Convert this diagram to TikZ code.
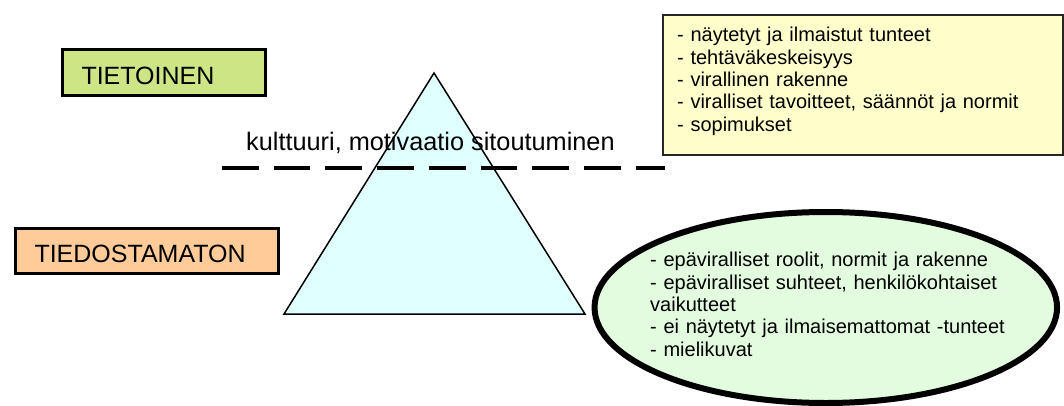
\documentclass[tikz,border=0pt]{standalone}
\usepackage{fontspec}
\setmainfont{Liberation Sans}
\usetikzlibrary{shapes.geometric}
\definecolor{levelgreen}{RGB}{205,229,133}
\definecolor{levelpeach}{RGB}{255,204,153}
\definecolor{icecyan}{RGB}{224,255,255}
\definecolor{noteyellow}{RGB}{255,255,204}
\definecolor{notegreen}{RGB}{227,252,224}
\begin{document}
\begin{tikzpicture}[x=1pt,y=-1pt,
  levelbox/.style={draw=black, line width=3pt, rectangle, align=left,
    inner ysep=0pt, inner xsep=19.5pt,
    font=\fontsize{25}{30}\selectfont},
  notetext/.style={anchor=base west, inner sep=0pt, align=left,
    text width=#1, font=\fontsize{20}{22.4}\selectfont}]
\useasboundingbox (0,0) rectangle (1064,406);

% the iceberg
\coordinate (apex) at (434,73);
\coordinate (baseL) at (284,314);
\coordinate (baseR) at (585,314);
\draw[fill=icecyan, line width=1.5pt, line join=miter] (apex) -- (baseL) -- (baseR) -- cycle;

% level labels
\node[levelbox, fill=levelgreen, anchor=north west, text width=164pt,
      text height=34.8pt, text depth=11.2pt] (tietoinen) at (60.5,48.5) {TIETOINEN};
\node[levelbox, fill=levelpeach, anchor=north west, text width=224pt,
      text height=34.2pt, text depth=10.8pt] (tiedostamaton) at (13.5,226.5) {TIEDOSTAMATON};

% waterline
\node[anchor=base west, inner sep=0pt, font=\fontsize{25.3}{30}\selectfont]
  (waterlabel) at (246,150) {kulttuuri, motivaatio sitoutuminen};
\coordinate (lineL) at (222,168);
\coordinate (lineR) at (665,168);
\draw[line width=4pt, dash pattern=on 36.7pt off 15pt] (lineL) -- (lineR);

% visible part
\node[draw=black!85, line width=2pt, fill=noteyellow, rectangle, anchor=north west,
      minimum width=400pt, minimum height=140pt, inner sep=0pt] (visible) at (662,14) {};
\node[notetext=380pt] (visibletext) at (677,41.7)
  {- näytetyt ja ilmaistut tunteet\\
   - tehtäväkeskeisyys\\
   - virallinen rakenne\\
   - viralliset tavoitteet, säännöt ja normit\\
   - sopimukset};

% hidden part
\node[ellipse, draw=black, line width=6pt, fill=notegreen,
      minimum width=462.5pt, minimum height=191pt, inner sep=0pt] (hidden) at (825.8,307.5) {};
\node[notetext=390pt] (hiddentext) at (650,266.7)
  {- epäviralliset roolit, normit ja rakenne\\
   - epäviralliset suhteet, henkilökohtaiset\\
   vaikutteet\\
   - ei näytetyt ja ilmaisemattomat -tunteet\\
   - mielikuvat};
\end{tikzpicture}
\end{document}
